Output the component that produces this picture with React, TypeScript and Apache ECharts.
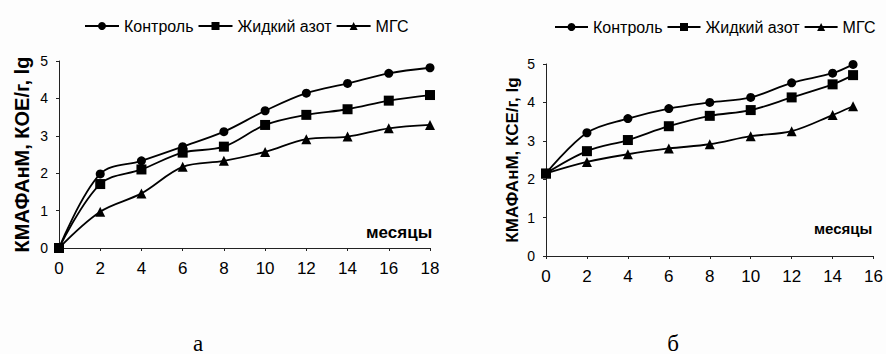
import React, { useEffect, useRef } from "react";
import * as echarts from "echarts";

// Panel "а": 0–18 months
const monthsA = [0, 2, 4, 6, 8, 10, 12, 14, 16, 18];
const controlA = [0, 1.98, 2.33, 2.71, 3.11, 3.67, 4.14, 4.4, 4.67, 4.82];
const nitrogenA = [0, 1.71, 2.1, 2.55, 2.71, 3.29, 3.56, 3.71, 3.94, 4.09];
const mgsA = [0, 0.97, 1.46, 2.17, 2.33, 2.57, 2.91, 2.98, 3.2, 3.29];

// Panel "б": 0–15 months
const monthsB = [0, 2, 4, 6, 8, 10, 12, 14, 15];
const controlB = [2.15, 3.21, 3.58, 3.84, 4.0, 4.13, 4.51, 4.76, 4.99];
const nitrogenB = [2.15, 2.73, 3.02, 3.38, 3.65, 3.8, 4.13, 4.47, 4.71];
const mgsB = [2.15, 2.45, 2.65, 2.8, 2.91, 3.12, 3.25, 3.67, 3.9];

const seriesNames = ["Контроль", "Жидкий азот", "МГС"];
const symbols = ["circle", "rect", "triangle"];

const zip = (xs: number[], ys: number[]) => xs.map((x, i) => [x, ys[i]]);

export default function App() {
  const ref = useRef<HTMLDivElement>(null);

  useEffect(() => {
    if (!ref.current) return;
    const chart = echarts.init(ref.current, null, { renderer: "svg" });
    const font = "Liberation Sans, Arial, sans-serif";

    const axisBase = {
      axisLine: { show: true, lineStyle: { color: "#222", width: 1 } },
      axisTick: { show: true, inside: false, length: 3, lineStyle: { color: "#222" } },
      splitLine: { show: false },
      axisLabel: { color: "#000", fontFamily: font, fontSize: 14 },
    };

    const makeSeries = (grid: number, xs: number[], sets: number[][]) =>
      sets.map((ys, i) => ({
        name: seriesNames[i],
        type: "line",
        xAxisIndex: grid,
        yAxisIndex: grid,
        data: zip(xs, ys),
        smooth: 0.35,
        symbol: symbols[i],
        symbolSize: i === 0 ? 9 : 10,
        lineStyle: { color: "#000", width: 1.8 },
        itemStyle: { color: "#000" },
      }));

    const legendText = { color: "#000", fontFamily: font, fontSize: 16, fontWeight: 500 };

    // panel letters under each chart
    const panelLetter = (text: string, x: number) => ({
      type: "text",
      x,
      y: 343,
      style: {
        text,
        fill: "#000",
        font: "23px Liberation Serif, serif",
        align: "center",
        verticalAlign: "middle",
        lineHeight: 18,
      },
    });

    chart.setOption({
      animation: false,
      backgroundColor: "#fdfdfd",
      legend: [
        {
          left: 79,
          top: 13,
          width: 380,
          itemWidth: 34,
          itemHeight: 10,
          itemGap: 4,
          textStyle: legendText,
          data: seriesNames,
        },
        {
          left: 549,
          top: 14,
          width: 380,
          itemWidth: 33,
          itemHeight: 10,
          itemGap: 4,
          textStyle: legendText,
          data: seriesNames,
        },
      ],
      grid: [
        { left: 59, right: 456, top: 61, bottom: 106 },
        { left: 546, right: 10, top: 64, bottom: 98 },
      ],
      xAxis: [
        { ...axisBase, type: "value", gridIndex: 0, min: 0, max: 18, interval: 2, axisLabel: { ...axisBase.axisLabel, fontSize: 17, margin: 12 } },
        { ...axisBase, type: "value", gridIndex: 1, min: 0, max: 16, interval: 2, axisLabel: { ...axisBase.axisLabel, fontSize: 17, margin: 12 } },
      ],
      yAxis: [
        {
          ...axisBase,
          type: "value",
          gridIndex: 0,
          min: 0,
          max: 5,
          interval: 1,
          axisLabel: { ...axisBase.axisLabel, margin: 11 },
          name: "КМАФАнМ, КОЕ/г, lg",
          nameLocation: "middle",
          nameGap: 27,
          nameTextStyle: { color: "#000", fontFamily: font, fontSize: 20, fontWeight: "bold" },
        },
        {
          ...axisBase,
          type: "value",
          gridIndex: 1,
          min: 0,
          max: 5,
          interval: 1,
          axisLabel: { ...axisBase.axisLabel, margin: 11 },
          name: "КМАФАнМ, КСЕ/г, lg",
          nameLocation: "middle",
          nameGap: 25,
          nameTextStyle: { color: "#000", fontFamily: font, fontSize: 17, fontWeight: "bold" },
        },
      ],
      graphic: [
        {
          type: "text",
          left: 366,
          top: 224,
          style: { text: "месяцы", fill: "#000", font: `bold 17px ${font}` },
        },
        {
          type: "text",
          left: 814,
          top: 221,
          style: { text: "месяцы", fill: "#000", font: `bold 15px ${font}` },
        },
        panelLetter("а", 198),
        panelLetter("б", 673),
      ],
      series: [
        ...makeSeries(0, monthsA, [controlA, nitrogenA, mgsA]),
        ...makeSeries(1, monthsB, [controlB, nitrogenB, mgsB]),
      ],
    });

    return () => chart.dispose();
  }, []);

  return (
    <div
      ref={ref}
      style={{ position: "fixed", left: 0, top: 0, width: 886, height: 354 }}
    />
  );
}
